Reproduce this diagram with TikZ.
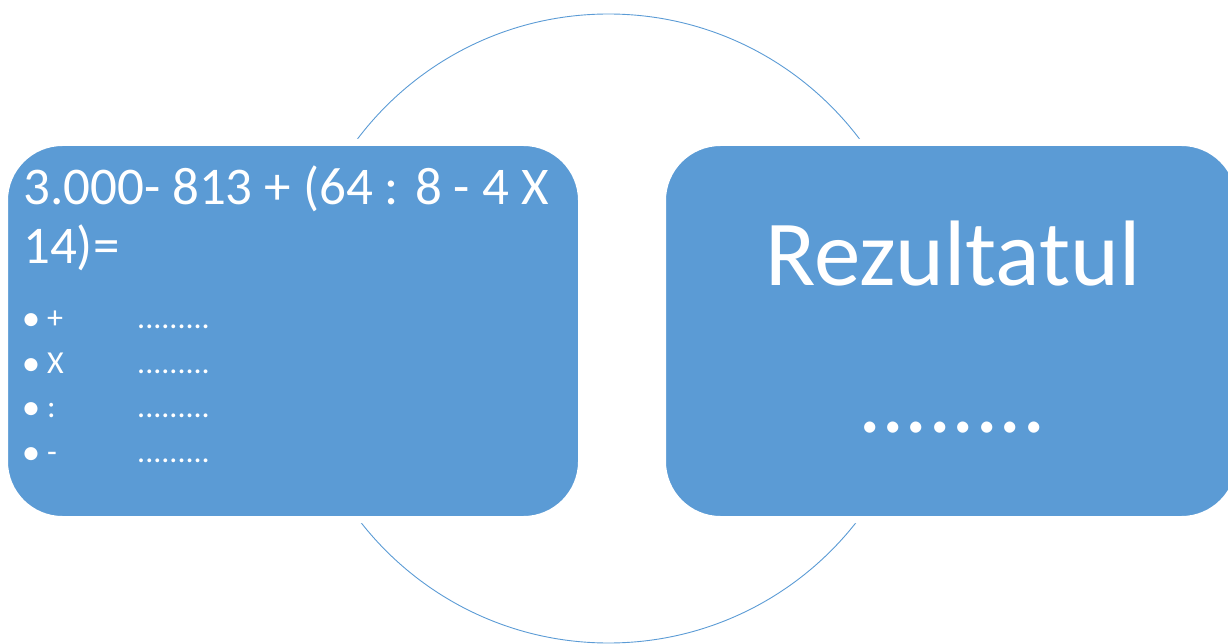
\documentclass[tikz,border=0pt]{standalone}
\usepackage{fontspec}
\setmainfont{Carlito}
\definecolor{offblue}{HTML}{5B9BD5}
\begin{document}
\begin{tikzpicture}[x=1pt,y=-1pt,
  box/.style={draw=white,line width=7pt,fill=offblue,rounded corners=58pt,minimum width=577pt,minimum height=377pt,inner sep=0pt},
  txt/.style={text=white,inner sep=0pt,anchor=base west},
  big/.style={text=white,inner sep=0pt,anchor=base,font=\fontsize{93}{100}\selectfont},
  head/.style={txt,font=\fontsize{53}{58}\selectfont},
  item/.style={txt,font=\fontsize{32}{36}\selectfont},
  bul/.style={text=white,inner sep=0pt,anchor=base,font=\fontsize{37}{40}\selectfont}]
\useasboundingbox (0,0) rectangle (1228,644);
\node[draw=offblue,line width=0.9pt,circle,minimum size=629pt,inner sep=0pt] (C) at (608.5,328.5) {};
\node[box] (L) at (293,331) {};
\node[box] (R) at (951,331) {};
\node[head] (h1) at (23,205) {3.000- 813 + (64 : 8 - 4 X};
\node[head] (h2) at (23,263) {14)=};
\foreach \i/\y/\s in {1/328/+,2/373/X,3/417/:,4/462/-}{
  \node[bul] (b\i) at (31,\y+2) {•};
  \node[item] (s\i) at (47,\y) {\s};
  \node[item] (d\i) at (137,\y) {.........};
}
\node[big] (r1) at (953,285) {Rezultatul};
\node[big] (r2) at (952,432) {........};
\end{tikzpicture}
\end{document}
